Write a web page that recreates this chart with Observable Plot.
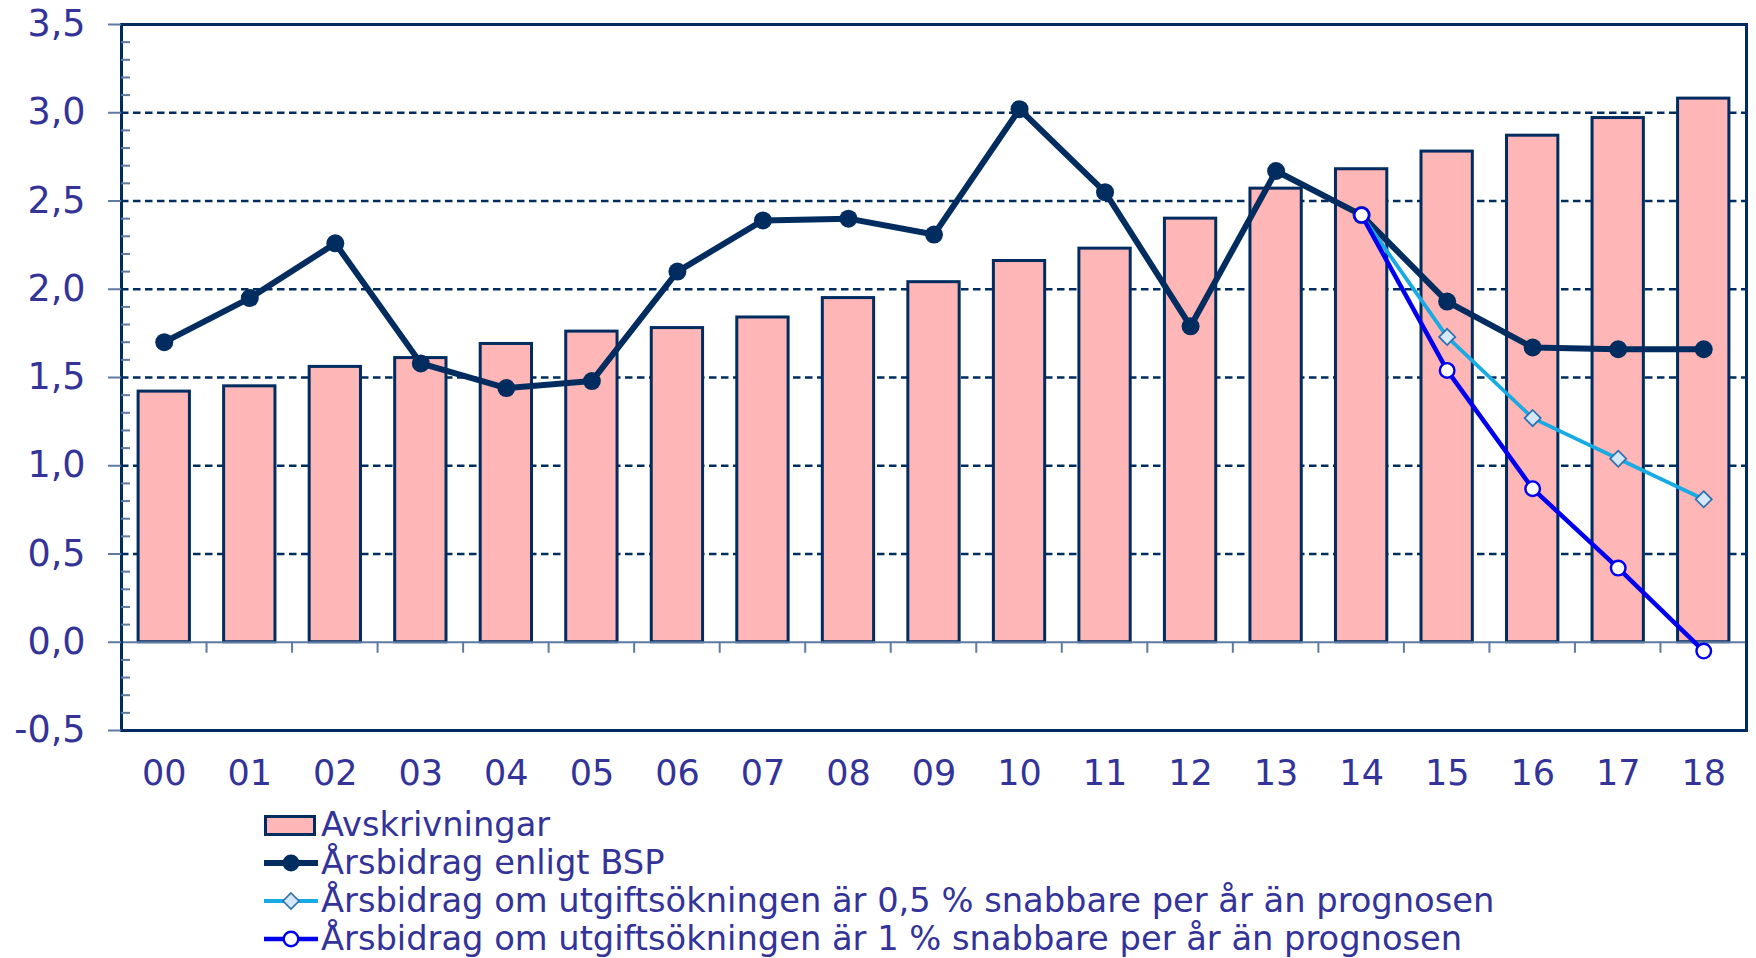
<!DOCTYPE html>
<html><head><meta charset="utf-8">
<script src="https://cdn.jsdelivr.net/npm/d3@7"></script>
<script src="https://cdn.jsdelivr.net/npm/@observablehq/plot@0.6"></script>
<style>
body{margin:0;background:#fff;font-family:"DejaVu Sans",Verdana,sans-serif;}
#legend{padding-left:264px;padding-top:6px;color:#333399;font-size:33.7px;}
.row{display:flex;align-items:center;height:38px;white-space:nowrap;line-height:38px;}
.row svg{width:57px;height:38px;flex:none;}
</style></head><body>
<div id="chart"></div>
<div id="legend"></div>
<script>
const years = ["00","01","02","03","04","05","06","07","08","09","10","11","12","13","14","15","16","17","18"];
const avskrivningar = [1.42,1.45,1.56,1.61,1.69,1.76,1.78,1.84,1.95,2.04,2.16,2.23,2.40,2.57,2.68,2.78,2.87,2.97,3.08];
const arsbidragBSP = [1.70,1.95,2.26,1.58,1.44,1.48,2.10,2.39,2.40,2.31,3.02,2.55,1.79,2.67,2.42,1.93,1.67,1.66,1.66];
const arsbidrag05 = [null,null,null,null,null,null,null,null,null,null,null,null,null,null,2.42,1.73,1.27,1.04,0.81];
const arsbidrag1 = [null,null,null,null,null,null,null,null,null,null,null,null,null,null,2.42,1.54,0.87,0.42,-0.05];
const yTicks = [-0.5,0,0.5,1,1.5,2,2.5,3,3.5];
const gridTicks = [0.5,1,1.5,2,2.5,3];
const seriesNames = ["Avskrivningar","Årsbidrag enligt BSP","Årsbidrag om utgiftsökningen är 0,5 % snabbare per år än prognosen","Årsbidrag om utgiftsökningen är 1 % snabbare per år än prognosen"];

const NAVY = "#002c5f", PINK = "#ffb6b6", LIGHT = "#17aae3", BLUE = "#0000ee", TXT = "#333399", TICK = "#5d7aa3";
const fmt = d => d.toFixed(1).replace(".", ",");
const minorTicks = d3.range(-5, 36).map(i => i / 10).filter(v => Math.round(v * 10) % 5 !== 0);

const rows = years.map((y, i) => ({year: y, avs: avskrivningar[i], bsp: arsbidragBSP[i], s05: arsbidrag05[i], s1: arsbidrag1[i]}));
const r05 = rows.filter(d => d.s05 != null);
const r1 = rows.filter(d => d.s1 != null);

function boundaryTicks(index, scales) {
  const x = scales.x, y = scales.y;
  const bw = x.bandwidth ? x.bandwidth() : 0;
  const g = d3.create("svg:g").attr("stroke", TICK).attr("stroke-width", 2);
  const y0 = y(0);
  for (let k = 1; k < years.length; k++) {
    const xm = (x(years[k - 1]) + bw + x(years[k])) / 2;
    g.append("line").attr("x1", xm).attr("x2", xm).attr("y1", y0).attr("y2", y0 + 11);
  }
  return g.node();
}

const plot = Plot.plot({
  width: 1756,
  height: 800,
  marginLeft: 121,
  marginRight: 10,
  marginTop: 24,
  marginBottom: 70,
  style: {fontFamily: "DejaVu Sans, Verdana, sans-serif", fontSize: "35px", background: "#fff"},
  x: {type: "band", domain: years, paddingInner: 0.4, paddingOuter: 0.2, round: false, axis: null},
  y: {domain: [-0.5, 3.5], axis: null},
  marks: [
    Plot.gridY(gridTicks, {stroke: NAVY, strokeOpacity: 1, strokeWidth: 2.3, strokeDasharray: "7.5,4.5"}),
    Plot.barY(rows, {x: "year", y: "avs", fill: PINK, stroke: NAVY, strokeWidth: 3}),
    Plot.ruleY([0], {stroke: TICK, strokeWidth: 2}),
    boundaryTicks,
    Plot.lineY(rows, {x: "year", y: "bsp", stroke: NAVY, strokeWidth: 6}),
    Plot.dot(rows, {x: "year", y: "bsp", r: 9, fill: NAVY, stroke: "none"}),
    Plot.lineY(r05, {x: "year", y: "s05", stroke: LIGHT, strokeWidth: 3.8}),
    Plot.dot(r05, {x: "year", y: "s05", symbol: "diamond2", r: 7.3, fill: "#d5e8fb", stroke: "#2a70b0", strokeWidth: 1.7}),
    Plot.lineY(r1, {x: "year", y: "s1", stroke: BLUE, strokeWidth: 4.5}),
    Plot.dot(r1, {x: "year", y: "s1", r: 7.3, fill: "#fff", stroke: BLUE, strokeWidth: 2.4}),
    Plot.frame({stroke: NAVY, strokeWidth: 3}),
    Plot.axisY(yTicks, {anchor: "left", tickSize: 13, tickPadding: 23, tickFormat: fmt, label: null, stroke: TICK, strokeWidth: 2, fill: TXT, fontSize: 36.5}),
    Plot.axisY(minorTicks, {anchor: "left", tickSize: -9, tickFormat: () => "", label: null, stroke: TICK, strokeWidth: 2}),
    Plot.axisX({anchor: "bottom", tickSize: 0, tickPadding: 30, label: null, fill: TXT})
  ]
});
document.getElementById("chart").appendChild(plot);

const swatches = [
  `<rect x="1.5" y="10.5" width="49" height="18" fill="${PINK}" stroke="${NAVY}" stroke-width="3"/>`,
  `<line x1="0" x2="54" y1="19" y2="19" stroke="${NAVY}" stroke-width="6"/><circle cx="27" cy="19" r="8.5" fill="${NAVY}"/>`,
  `<line x1="0" x2="54" y1="19" y2="19" stroke="${LIGHT}" stroke-width="3.8"/><path d="M27,11 L35,19 L27,27 L19,19 Z" fill="#d5e8fb" stroke="#2a70b0" stroke-width="1.6"/>`,
  `<line x1="0" x2="54" y1="19" y2="19" stroke="${BLUE}" stroke-width="4.5"/><circle cx="27" cy="19" r="7.3" fill="#fff" stroke="${BLUE}" stroke-width="2.4"/>`
];
const leg = document.getElementById("legend");
seriesNames.forEach((name, i) => {
  const row = document.createElement("div");
  row.className = "row";
  row.innerHTML = `<svg viewBox="0 0 57 38">${swatches[i]}</svg><span>${name}</span>`;
  leg.appendChild(row);
});
</script>
</body></html>
